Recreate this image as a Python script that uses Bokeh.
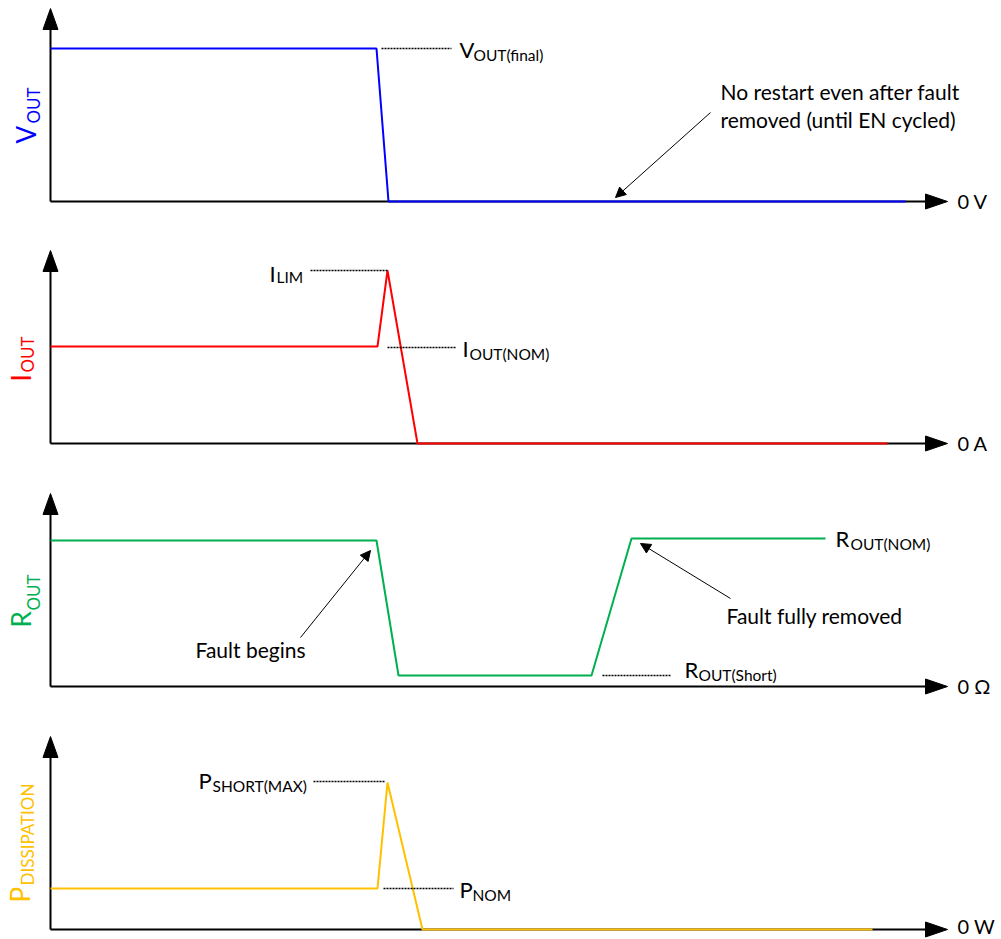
import math
from bokeh.plotting import figure
from bokeh.models import Range1d, Label, Arrow, NormalHead
from bokeh.layouts import column
from bokeh.embed import file_html
from bokeh.resources import INLINE

# ---------------- data (time in arbitrary units, 0 = vertical axis) ----------------
t_vout = [0, 326, 338, 855]
vout = [153, 153, 0, 0]

t_iout = [0, 327, 337, 367, 837]
iout = [97, 97, 173, 0, 0]

t_rout = [0, 326, 348, 541, 581, 775]
rout = [146, 146, 11, 11, 148, 148]

t_pdis = [0, 327, 337, 372, 822]
pdis = [41, 41, 147, 0, 0]

axis_top = 193
axis_right = 897

# ---------------- styling ----------------
FONT = "Lato"
BLUE = "#0000FF"
RED = "#FF0000"
GREEN = "#00B050"
ORANGE = "#FFC000"
K = 0.38  # baseline correction factor for label placement


def make_panel(h, ylo, yhi):
    p = figure(width=1001, height=h, x_range=Range1d(-50, 951), y_range=Range1d(ylo, yhi),
               output_backend="svg", toolbar_location=None, min_border=0, title=None,
               x_axis_type=None, y_axis_type=None)
    p.outline_line_color = None
    p.background_fill_color = "white"
    p.border_fill_color = "white"
    p.line([0, 0], [0, axis_top - 18], line_color="black", line_width=2)
    p.line([0, axis_right - 18], [0, 0], line_color="black", line_width=2)
    p.patch([-7.5, 0, 7.5], [axis_top - 21, axis_top, axis_top - 21], color="black")
    p.patch([axis_right - 22, axis_right, axis_right - 22], [-7.5, 0, 7.5], color="black")
    return p


def lab(p, x, y, text, size, color="black", rotated=False):
    if rotated:
        x = x - K * size
        angle = math.pi / 2
    else:
        y = y + K * size
        angle = 0.0
    p.add_layout(Label(x=x, y=y, text=text, text_font=FONT, text_font_size=f"{size}px",
                       text_color=color, angle=angle, text_align="left",
                       text_baseline="alphabetic"))


def sublab(p, x, y, main, sub, dx, color="black", main_size=22, sub_size=15.5, dy=3):
    lab(p, x, y, main, main_size, color)
    lab(p, x + dx, y - dy, sub, sub_size, color)


def ylab(p, x, y, main, sub, dx, dy, color, main_size=26, sub_size=17):
    lab(p, x, y, main, main_size, color, rotated=True)
    lab(p, x + dx, y + dy, sub, sub_size, color, rotated=True)


def dotted(p, x0, x1, y):
    p.line([x0, x1], [y, y], line_color="black", line_width=1.4, line_dash="2 1")


def note_arrow(p, x0, y0, x1, y1):
    p.add_layout(Arrow(end=NormalHead(size=10, fill_color="black", line_color="black"),
                       x_start=x0, y_start=y0, x_end=x1, y_end=y1,
                       line_color="black", line_width=1))


NOTE = 21
ZERO = 20

# ---------------- panel 1 : VOUT ----------------
p1 = make_panel(220, -19, 201)
p1.line(t_vout, vout, line_color=BLUE, line_width=2)
dotted(p1, t_vout[1] + 5, 401, vout[0])
sublab(p1, 409, vout[0] - 9, "V", "OUT(final)", 14)
lab(p1, 670, 102, "No restart even after fault", NOTE)
lab(p1, 670, 74, "removed (until EN cycled)", NOTE)
note_arrow(p1, 660, 89, 565, 4)
lab(p1, 907, -7, "0 V", ZERO)
ylab(p1, -15, 58, "V", "OUT", 4, 20, BLUE)

# ---------------- panel 2 : IOUT ----------------
p2 = make_panel(243, -20, 223)
p2.line(t_iout, iout, line_color=RED, line_width=2)
dotted(p2, 260, t_iout[2], iout[2])
sublab(p2, 219, iout[2] - 11, "I", "LIM", 7, dy=1)
dotted(p2, t_iout[2], 405, iout[0] - 1)
sublab(p2, 412, iout[0] - 10, "I", "OUT(NOM)", 7)
lab(p2, 907, -7, "0 A", ZERO)
ylab(p2, -20, 62, "I", "OUT", 3, 9, RED)

# ---------------- panel 3 : ROUT ----------------
p3 = make_panel(243, -20, 223)
p3.line(t_rout, rout, line_color=GREEN, line_width=2)
sublab(p3, 785, rout[-1] - 8, "R", "OUT(NOM)", 15)
dotted(p3, t_rout[3] + 11, 620, rout[3])
sublab(p3, 634, rout[3] - 2, "R", "OUT(Short)", 14)
lab(p3, 145, 29, "Fault begins", NOTE)
note_arrow(p3, 250, 49, 320, 136)
lab(p3, 676, 63, "Fault fully removed", NOTE)
note_arrow(p3, 680, 88, 590, 143)
lab(p3, 907, -7, "0 \u03a9", ZERO)
ylab(p3, -20, 59, "R", "OUT", 9, 17, GREEN)

# ---------------- panel 4 : PDISSIPATION ----------------
p4 = make_panel(233, -10, 223)
p4.line(t_pdis, pdis, line_color=ORANGE, line_width=2)
dotted(p4, 263, t_pdis[2] - 2, pdis[2] + 1)
sublab(p4, 148, pdis[2] - 6, "P", "SHORT(MAX)", 14)
dotted(p4, t_pdis[1] + 6, 403, pdis[0])
sublab(p4, 409, pdis[0] - 9, "P", "NOM", 13)
lab(p4, 907, -4, "0 W", ZERO)
ylab(p4, -21, 27, "P", "DISSIPATION", 4, 17, ORANGE)

layout = column(p1, p2, p3, p4, spacing=0)
open("out.html", "w").write(file_html(layout, INLINE))
